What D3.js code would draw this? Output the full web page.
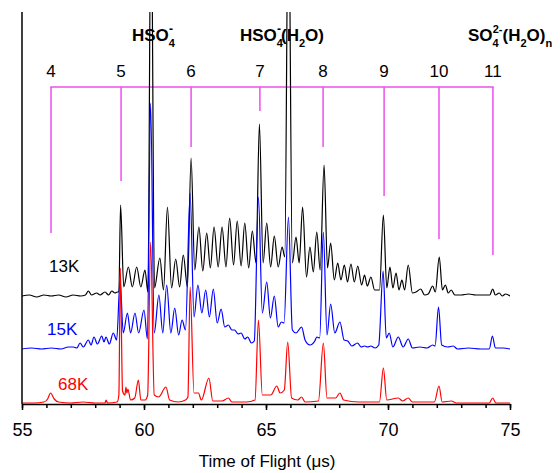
<!DOCTYPE html>
<html>
<head>
<meta charset="utf-8">
<script src="https://cdn.jsdelivr.net/npm/d3@7"></script>
<style>
  body { margin: 0; background: #fff; }
  svg { font-family: Arial, "Liberation Sans", sans-serif; }
</style>
</head>
<body>
<div class="chartHolder"></div>
<script>
// spectra: [time of flight (us), intensity above own baseline (arb.)]
const trace13K = [[55.0,0],[55.3,1],[55.6,-1],[55.9,1],[56.2,0],[56.5,1],[56.8,-1],[57.1,1],[57.4,0],[57.6,1],[57.72,5],[57.85,1],[58.06,3],[58.2,1],[58.4,4],[58.55,1],[58.68,5],[58.81,3],[58.91,4],[58.97,4],[59.04,91],[59.17,9],[59.36,29],[59.52,9],[59.70,29],[59.87,9],[60.04,26],[60.16,4],[60.29,420],[60.43,8],[60.65,38],[60.80,6],[60.96,89],[61.13,8],[61.30,37],[61.46,9],[61.61,41],[61.78,9],[61.93,138],[62.08,26],[62.25,69],[62.41,25],[62.57,63],[62.72,28],[62.87,69],[63.04,29],[63.20,69],[63.36,29],[63.51,78],[63.67,31],[63.82,75],[63.98,30],[64.13,73],[64.29,28],[64.44,65],[64.59,33],[64.73,172],[64.88,33],[65.03,73],[65.19,29],[65.34,60],[65.50,29],[65.66,49],[65.77,39],[65.92,420],[66.08,33],[66.23,59],[66.36,33],[66.50,89],[66.66,19],[66.80,49],[66.94,24],[67.08,64],[67.22,26],[67.38,131],[67.52,28],[67.65,53],[67.80,16],[67.94,33],[68.07,16],[68.21,31],[68.34,14],[68.48,32],[68.62,14],[68.76,30],[68.92,11],[69.04,21],[69.15,10],[69.30,19],[69.45,6],[69.65,6],[69.81,81],[69.95,8],[70.08,29],[70.20,8],[70.33,23],[70.45,6],[70.57,16],[70.68,6],[70.83,31],[71.00,3],[71.15,4],[71.34,7],[71.50,1],[71.65,2],[71.83,10],[71.94,4],[72.10,39],[72.23,6],[72.35,11],[72.47,3],[72.59,6],[72.74,1],[73.0,1],[73.3,2],[73.6,1],[74.0,1],[74.17,1],[74.29,7],[74.40,1],[74.56,3],[74.68,0],[74.82,2],[75.0,0]];

const trace15K = [[55.0,0],[55.4,1],[55.8,0],[56.2,1],[56.6,0],[56.9,2],[57.10,2],[57.25,1],[57.38,6],[57.51,2],[57.72,9],[57.83,4],[57.95,12],[58.09,5],[58.27,13],[58.36,7],[58.44,12],[58.58,5],[58.74,16],[58.88,9],[59.02,69],[59.15,16],[59.32,36],[59.45,16],[59.63,36],[59.78,16],[60.00,39],[60.14,10],[60.27,246],[60.42,16],[60.61,54],[60.77,16],[60.93,64],[61.10,16],[61.26,41],[61.42,14],[61.56,29],[61.70,19],[61.89,156],[62.05,32],[62.21,64],[62.37,36],[62.53,59],[62.68,32],[62.84,60],[63.00,26],[63.16,40],[63.31,22],[63.46,24],[63.60,19],[63.71,19],[63.86,15],[63.98,16],[64.13,10],[64.25,12],[64.40,6],[64.52,8],[64.69,152],[64.85,36],[65.03,67],[65.18,31],[65.34,53],[65.50,22],[65.63,27],[65.74,26],[65.92,132],[66.08,19],[66.23,16],[66.46,22],[66.60,9],[66.80,4],[67.00,8],[67.08,12],[67.20,11],[67.35,117],[67.50,14],[67.65,45],[67.82,16],[68.03,27],[68.20,9],[68.35,8],[68.52,3],[68.75,6],[68.90,2],[69.04,3],[69.17,2],[69.30,3],[69.47,1],[69.62,4],[69.80,78],[69.93,11],[70.05,16],[70.20,2],[70.42,12],[70.62,2],[70.83,10],[71.00,1],[71.30,2],[71.60,1],[71.83,4],[71.93,3],[72.07,42],[72.20,4],[72.45,2],[72.67,3],[72.85,0],[73.3,1],[73.8,0],[74.15,0],[74.28,13],[74.40,1],[74.7,1],[75.0,0]];

const trace68K = [[55.0,0],[55.5,0],[55.9,1],[56.05,4],[56.17,10],[56.32,4],[56.5,1],[57.0,0],[57.5,1],[58.0,0],[58.4,0],[58.45,3],[58.5,0],[58.9,1],[58.97,8],[59.03,135],[59.12,12],[59.22,8],[59.26,16],[59.30,10],[59.34,14],[59.45,3],[59.62,5],[59.77,23],[59.87,3],[60.05,3],[60.15,8],[60.27,161],[60.42,8],[60.60,6],[60.90,16],[61.05,3],[61.40,1],[61.70,3],[61.80,6],[61.89,116],[62.05,10],[62.23,10],[62.35,3],[62.66,25],[62.82,2],[63.2,2],[63.46,5],[63.60,1],[64.2,1],[64.55,3],[64.69,83],[64.85,8],[65.20,8],[65.44,17],[65.58,10],[65.75,13],[65.89,61],[66.05,5],[66.30,3],[66.46,6],[66.60,1],[67.15,2],[67.35,60],[67.50,5],[67.85,5],[68.03,10],[68.18,3],[68.8,1],[69.65,1],[69.81,35],[69.95,3],[70.42,5],[70.60,2],[70.83,5],[71.0,1],[71.9,1],[72.09,17],[72.22,1],[72.6,2],[72.8,0],[74.15,0],[74.29,5],[74.42,0],[75.0,0]];

// vertical offsets of the stacked spectra (arb.)
const traceNames = ["13K", "15K", "68K"];
const traceOffsets = [108, 55, 1];
const traceColors = ["#000000", "#0000ff", "#ff0000"];

// SO4^2-(H2O)n comb
const combN = [4, 5, 6, 7, 8, 9, 10, 11];
const combT = [56.19, 59.06, 61.93, 64.75, 67.34, 69.84, 72.09, 74.30];
const combEnd = [171, 223, 257, 293, 257, 208, 165, 149];
const combTop = 317;

const xTicksMajor = [55, 60, 65, 70, 75];
const xTicksMinor = d3.range(55, 76, 1);

// init
const width = 560;
const height = 473;

const svg = d3.select(".chartHolder")
  .append("svg")
  .attr("width", width)
  .attr("height", height);

const x = d3.scaleLinear().domain([55, 75]).range([22, 510]);
const y = d3.scaleLinear().domain([0, 392]).range([404, 12]);

svg.append("clipPath")
  .attr("id", "plotClip")
  .append("rect")
  .attr("x", x(55))
  .attr("y", y(392))
  .attr("width", x(75) - x(55))
  .attr("height", y(0) - y(392));

// comb
const comb = svg.append("g").attr("stroke", "#ee4fee").attr("stroke-width", 1.5);
comb.append("line")
  .attr("x1", x(combT[0]) - 0.75)
  .attr("x2", x(combT[combT.length - 1]) + 0.75)
  .attr("y1", y(combTop))
  .attr("y2", y(combTop));
comb.selectAll(".tooth")
  .data(combT)
  .enter()
  .append("line")
  .attr("class", "tooth")
  .attr("x1", d => x(d))
  .attr("x2", d => x(d))
  .attr("y1", y(combTop))
  .attr("y2", (d, i) => y(combEnd[i]));

svg.selectAll(".combLabel")
  .data(combN)
  .enter()
  .append("text")
  .attr("class", "combLabel")
  .attr("x", (d, i) => x(combT[i]))
  .attr("y", y(combTop) - 10)
  .attr("text-anchor", "middle")
  .attr("font-size", 17)
  .text(d => d);

// spectra
const line = d3.line()
  .x(d => x(d[0]))
  .y(d => d.y)
  .curve(d3.curveMonotoneX);

const plot = svg.append("g").attr("clip-path", "url(#plotClip)");
[trace13K, trace15K, trace68K].forEach((tr, k) => {
  const pts = tr.map(d => { const p = [d[0], d[1]]; p.y = y(d[1] + traceOffsets[k]); return p; });
  plot.append("path")
    .attr("d", line(pts))
    .attr("fill", "none")
    .attr("stroke", traceColors[k])
    .attr("stroke-width", 1.2)
    .attr("stroke-linejoin", "round");
});

// trace labels
const labelPos = [[49, 272], [47, 335], [58, 390]];
svg.selectAll(".traceLabel")
  .data(traceNames)
  .enter()
  .append("text")
  .attr("class", "traceLabel")
  .attr("x", (d, i) => labelPos[i][0])
  .attr("y", (d, i) => labelPos[i][1])
  .attr("font-size", 17)
  .attr("fill", (d, i) => traceColors[i])
  .text(d => d);

// ion labels
function ionLabel(x0, parts) {
  const t = svg.append("text")
    .attr("x", x0)
    .attr("y", 41)
    .attr("font-size", 17)
    .attr("font-weight", "bold");
  parts.forEach(p => {
    const s = t.append("tspan").text(p.s);
    if (p.size) s.attr("font-size", p.size);
    if (p.dx) s.attr("dx", p.dx);
    if (p.dy) s.attr("dy", p.dy);
  });
}
ionLabel(132, [{ s: "HSO" }, { s: "4", size: 11, dy: 6 }, { s: "-", size: 12, dx: -6, dy: -14 }]);
ionLabel(240, [{ s: "HSO" }, { s: "4", size: 11, dy: 6 }, { s: "-", size: 12, dx: -6, dy: -14 },
  { s: "(H", dy: 8 }, { s: "2", size: 11, dy: 6 }, { s: "O)", dy: -6 }]);
ionLabel(468, [{ s: "SO" }, { s: "4", size: 11, dy: 6 }, { s: "2-", size: 11, dx: -6, dy: -14 },
  { s: "(H", dy: 8 }, { s: "2", size: 11, dy: 6 }, { s: "O)", dy: -6 }, { s: "n", size: 11, dy: 6 }]);

// axes
svg.append("g")
  .attr("transform", "translate(0," + y(0) + ")")
  .call(d3.axisBottom(x).tickValues(xTicksMinor).tickSize(4).tickFormat("").tickSizeOuter(0))
  .call(g => g.select(".domain").remove());

const xAxis = svg.append("g")
  .attr("transform", "translate(0," + y(0) + ")")
  .call(d3.axisBottom(x).tickValues(xTicksMajor).tickSize(6).tickPadding(13).tickSizeOuter(0));
xAxis.selectAll("text").attr("font-size", 18).attr("fill", "#000").attr("font-family", "Arial, 'Liberation Sans', sans-serif");
xAxis.selectAll("line, path").attr("stroke-width", 1.5);
svg.selectAll(".tick line").attr("stroke", "#000").attr("stroke-width", 1.5);

svg.append("line")
  .attr("x1", x(55))
  .attr("x2", x(55))
  .attr("y1", y(392))
  .attr("y2", y(0))
  .attr("stroke", "#000")
  .attr("stroke-width", 1.5);

svg.append("text")
  .attr("x", (x(55) + x(75)) / 2 + 1)
  .attr("y", 467)
  .attr("text-anchor", "middle")
  .attr("font-size", 17)
  .text("Time of Flight (\u03bcs)");
</script>
</body>
</html>
